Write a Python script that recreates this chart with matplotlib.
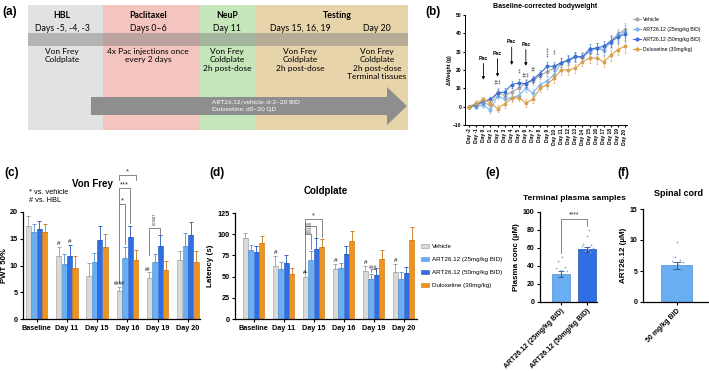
import numpy as np
import matplotlib.pyplot as plt
from matplotlib.patches import Rectangle, Polygon, Patch
from matplotlib.lines import Line2D

plt.rcParams['font.family'] = ['Liberation Sans', 'DejaVu Sans']
plt.rcParams['axes.linewidth'] = 0.9

#Grupos de tratamento e respectivas cores:
grupos = ['Vehicle', 'ART26.12 (25mg/kg BID)', 'ART26.12 (50mg/kg BID)', 'Duloxetine (30mg/kg)']
cor_barra = ['#d9d9d9', '#69aef2', '#2f6fe3', '#f0931c']
cor_borda = ['#9a9a9a', '#4f8fd0', '#1f55b8', '#c87410']
cor_linha = ['#a8a8a8', '#7fb5e8', '#3d6fd4', '#d9a04e']

#Painel (a) - desenho experimental:
fases = ['HBL', 'Paclitaxel', 'NeuP', 'Testing']
fases_dias = ['Days -5, -4, -3', 'Days 0\u20136', 'Day 11', 'Days 15, 16, 19', 'Day 20']
fases_tarefas = ['Von Frey\nColdplate', '4x Pac injections once\nevery 2 days',
                 'Von Frey\nColdplate\n2h post-dose', 'Von Frey\nColdplate\n2h post-dose',
                 'Von Frey\nColdplate\n2h post-dose\nTerminal tissues']
seta_txt = 'ART26.12/vehicle: d-2\u201320 BID\nDuloxetine: d0\u201320 QD'

#Painel (b) - peso corporal corrigido pela linha de base (g):
dias_b = ['Day -2', 'Day -1'] + ['Day %d' % d for d in range(0, 21)]
peso_veh = [0, 1, 2, 1, 8, 6, 8, 10, 13, 14, 17, 19, 21, 24, 25, 27, 27.5, 30, 32, 31, 36, 39.5, 42]
peso_25 = [0, 0, 1, -2, 6, 4, 5, 6, 10, 7.5, 12, 14, 17.5, 24, 25, 27, 27, 30, 32, 31, 35, 38.5, 41]
peso_50 = [0, 1, 3, 4, 7.5, 8, 12, 13, 12.5, 15, 18, 22, 22, 24, 25.5, 27.5, 27, 31.5, 32, 33, 35.5, 38, 39.5]
peso_dlx = [0, 2, 4, 2, -1, 1.5, 4.5, 5, 2, 4, 10, 12, 15.5, 20, 20, 21, 24.5, 26.5, 26.5, 24.5, 28, 31, 33]
peso_err = [0, 1.5, 1.5, 1.5, 2, 2, 2, 2, 2, 2, 2, 2.5, 2.5, 2.5, 2.5, 2.5, 2.5, 2.5, 3, 3, 3, 3, 3.5]
pac_dias = [2, 4, 6, 8]
pac_topo = [25, 27.7, 34, 32.6]
pac_fim = [14.7, 16.3, 22.8, 22.3]
marcas_x = [4, 7, 8, 9, 11, 11, 12]
marcas_y = [13.5, 19.7, 17.5, 20.5, 31, 28, 30]
marcas_txt = ['\u2021\u2021\u2021', '\u2021', '\u2021\u2021\u2021', '\u2021\u2021', '\u2021', '\u2021', '\u2021']

#Painéis (c) e (d) - dias de teste:
dias_teste = ['Baseline', 'Day 11', 'Day 15', 'Day 16', 'Day 19', 'Day 20']
vf_media = [[17.4, 11.8, 8.1, 5.3, 7.7, 11.1],
            [16.2, 10.3, 10.7, 11.4, 10.6, 13.6],
            [16.8, 11.8, 14.8, 15.4, 13.7, 15.7],
            [16.2, 9.5, 13.4, 11.1, 9.1, 10.6]]
vf_err = [[1.8, 1.7, 2.3, 0.6, 1.0, 1.7],
          [1.6, 1.9, 1.7, 2.0, 1.6, 2.4],
          [1.5, 2.0, 2.5, 1.9, 2.0, 2.4],
          [1.5, 2.2, 2.5, 1.8, 1.7, 2.2]]
cp_media = [[95, 62.5, 49, 59, 56.6, 55.8],
            [81, 59, 69.6, 60.5, 47, 47],
            [79, 65.6, 82, 76.7, 52, 53.9],
            [90, 52.7, 84.5, 92, 70.8, 93]]
cp_err = [[7, 12, 6, 6, 6, 9],
          [6, 8, 10, 6, 6, 8],
          [7, 10, 13, 9, 8, 7],
          [8, 8, 10, 12, 10, 15]]

#Painel (e) - plasma (uM):
pl_grupos = ['ART26.12 (25mg/kg BID)', 'ART26.12 (50mg/kg BID)']
pl_media = [31.3, 58.8]
pl_err = [3.5, 2.8]
pl_pontos_25 = [50, 46, 39, 38, 36, 34, 31, 28, 24, 20]
pl_pontos_50 = [80, 73, 64, 63, 62, 60, 59, 57, 56]

#Painel (f) - medula espinhal (uM):
sc_grupo = ['50 mg/kg BID']
sc_media = [5.9]
sc_err = [0.5]
sc_pontos = [9.6, 7.2, 6.8, 6.6, 6.5, 6.2, 5.7, 5.4, 5.0, 3.8]

W, H = 709, 371
fig = plt.figure(figsize=(7.09, 3.71), dpi=100)
fig.patch.set_facecolor('white')

def fx(px):
    return px / W

def fy(py):
    return 1 - py / H

def eixo(x0, y0, x1, y1):
    return fig.add_axes([fx(x0), fy(y1), (x1 - x0) / W, (y1 - y0) / H])

def estilo(ax, fs=5):
    for s in ['top', 'right']:
        ax.spines[s].set_visible(False)
    ax.tick_params(width=0.8, length=2.5, labelsize=fs, pad=1.5)
    for lab in ax.get_xticklabels() + ax.get_yticklabels():
        lab.set_fontweight('bold')

def colchete(ax, x1, x2, y, y1, y2, txt, fs=5, rot=0, dy=0.0):
    ax.plot([x1, x1, x2, x2], [y1, y, y, y2], color='#555555', lw=0.5, clip_on=False)
    ax.text((x1 + x2) / 2, y + dy, txt, ha='center', va='bottom', fontsize=fs,
            rotation=rot, clip_on=False, color='#333333')

#Rótulos dos painéis:
for lab, px, py in [('(a)', 10, 12), ('(b)', 433, 12), ('(c)', 12, 173),
                    ('(d)', 217, 173), ('(e)', 493, 173), ('(f)', 623, 173)]:
    fig.text(fx(px), fy(py), lab, fontsize=8.5, fontweight='bold', ha='center', va='center')

# ---------------- (a) ----------------
ax_a = eixo(28, 5, 408, 131)
ax_a.set_xlim(28, 408)
ax_a.set_ylim(131, 5)
ax_a.axis('off')
fase_x = [28, 103, 200, 256, 408]
fase_cor = ['#e2e2e2', '#f4c5be', '#c5e6bb', '#e8d4ab']
for i in range(4):
    ax_a.add_patch(Rectangle((fase_x[i], 5), fase_x[i + 1] - fase_x[i], 125, color=fase_cor[i], lw=0))
ax_a.add_patch(Rectangle((28, 33), 380, 13, color='#7a7a7a', alpha=0.45, lw=0))
seta = [(91, 97), (387, 97), (387, 87), (407, 106), (387, 125), (387, 115), (91, 115)]
ax_a.add_patch(Polygon(seta, closed=True, color='#8e8e8e', lw=0))
fa = ['Lato', 'DejaVu Sans']
for txt, cx in zip(fases, [62, 148, 227, 337]):
    ax_a.text(cx, 15, txt, ha='center', va='center', fontsize=6.3, fontweight='bold', family=fa)
for txt, cx in zip(fases_dias, [62, 148, 227, 300, 377]):
    ax_a.text(cx, 28, txt, ha='center', va='center', fontsize=6.3, family=fa)
for txt, cx in zip(fases_tarefas, [62, 148, 227, 300, 377]):
    ax_a.text(cx, 47.5, txt, ha='center', va='top', fontsize=6.0, family=fa, linespacing=1.25)
ax_a.text(212, 106, seta_txt, ha='left', va='center', fontsize=4.6, color='white',
          family=fa, linespacing=1.6)

# ---------------- (b) ----------------
ax_b = eixo(465, 15, 627, 125)
xb = np.arange(len(dias_b))
series_b = [peso_veh, peso_25, peso_50, peso_dlx]
for k in [0, 3, 1, 2]:
    ax_b.errorbar(xb, series_b[k], yerr=peso_err, color=cor_linha[k], lw=0.8, marker='o',
                  markersize=1.8, elinewidth=0.4, capsize=0.8, capthick=0.4, zorder=2 + k)
ax_b.set_xlim(-0.6, 22.3)
ax_b.set_ylim(-10, 50)
ax_b.set_yticks([-10, 0, 10, 20, 30, 40, 50])
ax_b.set_xticks(xb)
ax_b.set_xticklabels(dias_b, rotation=90)
estilo(ax_b, fs=3.6)
ax_b.tick_params(length=1.5, pad=1)
ax_b.spines['left'].set_linewidth(0.7)
ax_b.spines['bottom'].set_linewidth(0.7)
ax_b.set_ylabel('\u0394Weight (g)', fontsize=3.8, fontweight='bold', labelpad=1)
for d, yt, ye in zip(pac_dias, pac_topo, pac_fim):
    ax_b.annotate('Pac', xy=(d, ye), xytext=(d, yt), ha='center', va='bottom',
                  fontsize=3.8, fontweight='bold',
                  arrowprops=dict(arrowstyle='-|>', lw=0.6, color='black', mutation_scale=4,
                                  shrinkA=0, shrinkB=0))
for mx, my, mt in zip(marcas_x, marcas_y, marcas_txt):
    ax_b.text(mx, my, mt, ha='center', va='center', fontsize=3.3, color='#333333')
fig.text(fx(545), fy(6), 'Baseline-corrected bodyweight', fontsize=5, fontweight='bold',
         ha='center', va='center')
h_b = [Line2D([], [], color=cor_linha[k], lw=0.8, marker='o', markersize=2) for k in range(4)]
fig.legend(h_b, grupos, loc='upper left', bbox_to_anchor=(fx(631), fy(15)), fontsize=3.7,
           frameon=False, handlelength=1.5, labelspacing=0.95, borderaxespad=0, handletextpad=0.5)

# ---------------- (c) e (d) ----------------
def barras(ax, medias, erros):
    bw = 0.18
    x = np.arange(len(dias_teste))
    for i in range(4):
        xi = x + (i - 1.5) * bw
        ax.bar(xi, medias[i], bw * 0.94, color=cor_barra[i], edgecolor=cor_borda[i], lw=0.4, zorder=2)
        ax.errorbar(xi, medias[i], yerr=[np.zeros(len(x)), erros[i]], fmt='none',
                    ecolor=cor_borda[i], elinewidth=0.6, capsize=1.1, capthick=0.6, zorder=1)
    ax.set_xticks(x)
    ax.set_xticklabels(dias_teste)
    return bw

ax_c = eixo(23, 212, 200, 319)
bw = barras(ax_c, vf_media, vf_err)
ax_c.set_xlim(-0.45, 5.4)
ax_c.set_ylim(0, 20)
ax_c.set_yticks([0, 5, 10, 15, 20])
estilo(ax_c, fs=5.2)
ax_c.set_ylabel('PWT 50%', fontsize=5.6, fontweight='bold', labelpad=1)
fig.text(fx(92), fy(184), 'Von Frey', fontsize=7, fontweight='bold', ha='center', va='center')
fig.text(fx(29), fy(196), '* vs. vehicle\n# vs. HBL', fontsize=5.3, ha='left', va='center',
         linespacing=1.2)
xv = np.arange(6) - 1.5 * bw
#Marcas de significância vs. HBL:
ax_c.text(xv[1], 13.9, '#', ha='center', fontsize=4.5)
ax_c.text(xv[1] + 2 * bw, 14.2, '#', ha='center', fontsize=4.5)
ax_c.text(xv[3], 6.3, '####', ha='center', fontsize=3.5)
ax_c.text(xv[4] - 0.05, 8.9, '##', ha='center', fontsize=3.5)
#Comparações vs. veículo:
colchete(ax_c, xv[3], xv[3] + bw, 21.5, 6.7, 14.0, '*', fs=5.5)
colchete(ax_c, xv[3], xv[3] + 2 * bw, 24.5, 21.5, 18.0, '***', fs=5.5)
colchete(ax_c, xv[3], xv[3] + 3 * bw, 26.9, 26.0, 26.0, '*', fs=5.5)
colchete(ax_c, xv[4], xv[4] + 2 * bw, 17.0, 12.0, 15.8, '0.0687', fs=3, rot=90, dy=0.6)

ax_d = eixo(235, 213, 417, 319)
bw = barras(ax_d, cp_media, cp_err)
ax_d.set_xlim(-0.62, 5.45)
ax_d.set_ylim(0, 125)
ax_d.set_yticks([0, 25, 50, 75, 100, 125])
estilo(ax_d, fs=5.2)
ax_d.set_ylabel('Latency (s)', fontsize=5.8, fontweight='bold', labelpad=2)
ax_d.set_title('Coldplate', fontsize=7, fontweight='bold', pad=14)
xv = np.arange(6) - 1.5 * bw
for j in [1, 3, 4, 5]:
    ax_d.text(xv[j], cp_media[0][j] + cp_err[0][j] + 2, '#', ha='center', fontsize=4.5)
ax_d.text(xv[2] - 0.02, cp_media[0][2] + 4, '#', ha='center', fontsize=4.5)
colchete(ax_d, xv[4] + bw, xv[4] + 2 * bw, 59, 55, 57, '###', fs=3.5, dy=-1)
colchete(ax_d, xv[2], xv[2] + bw, 100, 56, 82, '0.0528', fs=2.8, rot=90, dy=1)
colchete(ax_d, xv[2], xv[2] + 2 * bw, 110, 100, 97, '0.0466', fs=2.8, rot=90, dy=-9)
colchete(ax_d, xv[2], xv[2] + 3 * bw, 118, 110, 97, '*', fs=5.5)
h_cd = [Patch(facecolor=cor_barra[k], edgecolor=cor_borda[k], lw=0.4) for k in range(4)]
fig.legend(h_cd, grupos, loc='upper left', bbox_to_anchor=(fx(418), fy(241)), fontsize=4.5,
           frameon=False, handlelength=1.3, handleheight=0.7, labelspacing=1.25,
           borderaxespad=0, handletextpad=0.6)

# ---------------- (e) ----------------
ax_e = eixo(540, 212, 597, 302)
xe = np.arange(2)
ax_e.bar(xe, pl_media, 0.72, color=[cor_barra[1], cor_barra[2]],
         edgecolor=[cor_borda[1], cor_borda[2]], lw=0.5, zorder=2)
ax_e.errorbar(xe, pl_media, yerr=pl_err, fmt='none', ecolor='#2a4f8f', elinewidth=0.6,
              capsize=2, capthick=0.6, zorder=3)
desloc_25 = [0.05, -0.12, 0.14, -0.2, 0.0, 0.22, -0.05, 0.1, -0.15, 0.02]
desloc_50 = [0.06, 0.0, -0.14, 0.15, -0.2, 0.22, 0.05, -0.08, 0.12]
ax_e.scatter(xe[0] + np.array(desloc_25), pl_pontos_25, s=1.5, color='#8aa7cf', zorder=4, lw=0)
ax_e.scatter(xe[1] + np.array(desloc_50), pl_pontos_50, s=1.5, color='#8aa7cf', zorder=4, lw=0)
ax_e.set_xlim(-0.8, 1.38)
ax_e.set_ylim(0, 100)
ax_e.set_yticks([0, 20, 40, 60, 80, 100])
ax_e.set_xticks(xe)
ax_e.set_xticklabels(pl_grupos, rotation=45, ha='right', rotation_mode='anchor')
estilo(ax_e, fs=5)
ax_e.set_ylabel('Plasma conc (\u00b5M)', fontsize=5.8, fontweight='bold', labelpad=2)
colchete(ax_e, 0, 1, 92.5, 55, 85, '****', fs=5)
fig.text(fx(574), fy(198), 'Terminal plasma samples', fontsize=6, fontweight='bold',
         ha='center', va='center')

# ---------------- (f) ----------------
ax_f = eixo(643, 209, 709, 302)
ax_f.bar([0], sc_media, 1.0, color=cor_barra[1], edgecolor=cor_borda[1], lw=0.5, zorder=2)
ax_f.errorbar([0], sc_media, yerr=sc_err, fmt='none', ecolor='#2a4f8f', elinewidth=0.6,
              capsize=3, capthick=0.6, zorder=3)
desloc_f = [0.0, -0.05, 0.12, -0.15, 0.2, 0.05, -0.22, 0.15, -0.1, 0.08]
ax_f.scatter(np.array(desloc_f), sc_pontos, s=1.5, color='#8aa7cf', zorder=4, lw=0)
ax_f.set_xlim(-1.1, 1.05)
ax_f.set_ylim(0, 15)
ax_f.set_yticks([0, 5, 10, 15])
ax_f.set_xticks([0])
ax_f.set_xticklabels(sc_grupo, rotation=45, ha='right', rotation_mode='anchor')
estilo(ax_f, fs=5)
ax_f.set_ylabel('ART26.12 (\u00b5M)', fontsize=5.8, fontweight='bold', labelpad=2)
fig.text(fx(678), fy(193), 'Spinal cord', fontsize=6.5, fontweight='bold', ha='center', va='center')

fig.savefig('out.png', dpi=100, facecolor='white')
